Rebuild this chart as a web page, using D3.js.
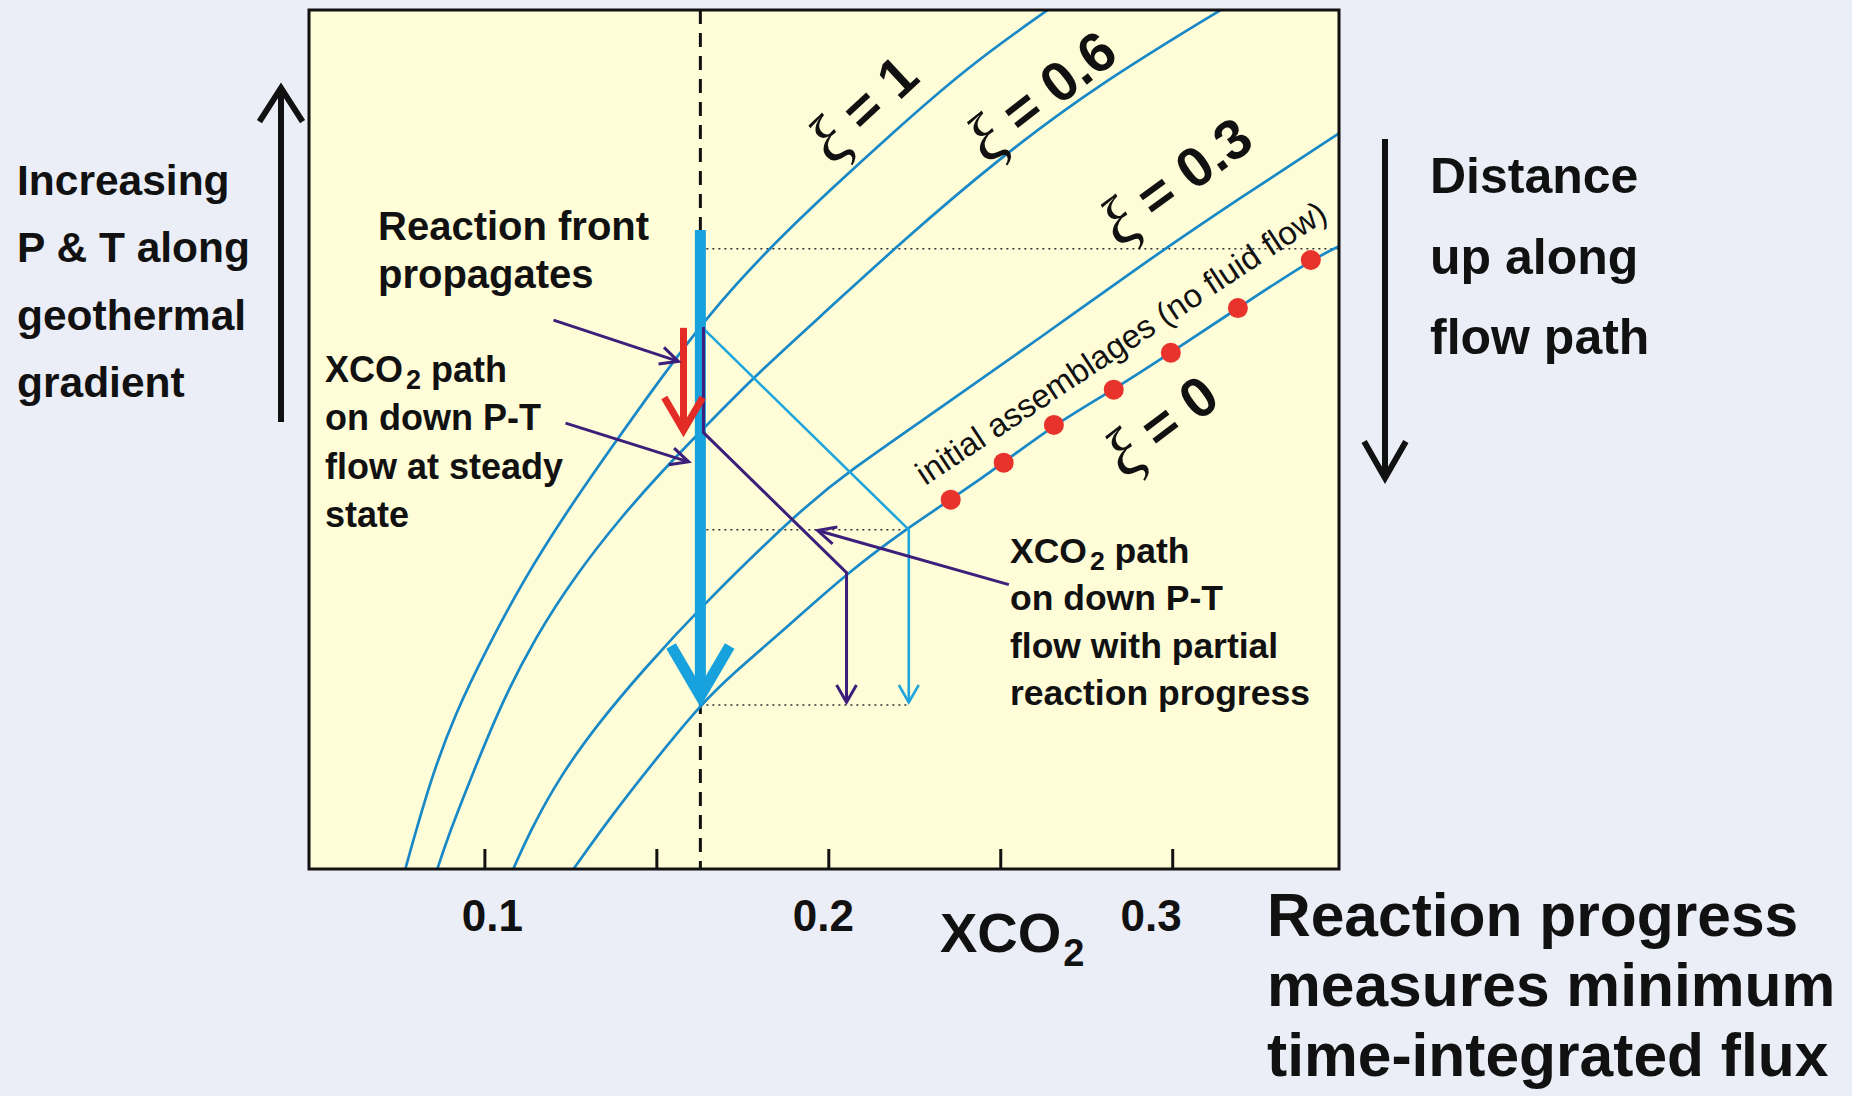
<!DOCTYPE html>
<html>
<head>
<meta charset="utf-8">
<script src="https://cdn.jsdelivr.net/npm/d3@7"></script>
<style>
  html, body { margin: 0; padding: 0; background: #ebeef7; }
  svg { display: block; }
  text { font-family: "Liberation Sans", Arial, sans-serif; fill: #111; }
</style>
</head>
<body>
<div id="chart"></div>
<script>
// XCO2 (x) against relative position along the P-T path (y, 0 = bottom of panel, 100 = top)
const xi1X  = [0.0770, 0.0843, 0.0916, 0.1009, 0.1113, 0.1236, 0.1370, 0.1509, 0.1649, 0.1823, 0.2015, 0.2173, 0.2405, 0.2638];
const xi1Y  = [0, 10.4, 18.2, 25.8, 33.6, 41.4, 49.1, 56.9, 64.4, 72.1, 79.4, 85.2, 93.4, 100];
const xi06X = [0.0863, 0.0901, 0.0959, 0.1047, 0.1148, 0.1265, 0.1396, 0.1521, 0.1628, 0.1783, 0.2015, 0.2210, 0.2501, 0.2792, 0.3141];
const xi06Y = [0, 4.5, 10.4, 19.1, 27.0, 34.2, 40.9, 46.5, 50.9, 57.3, 65.7, 72.9, 82.9, 91.5, 100];
const xi03X = [0.1084, 0.1134, 0.1221, 0.1338, 0.1454, 0.1628, 0.1919, 0.2056, 0.2327, 0.2618, 0.2909, 0.3200, 0.3491];
const xi03Y = [0, 4.5, 10.9, 17.3, 22.8, 30.5, 41.8, 46.2, 53.7, 61.9, 70.3, 78.2, 85.8];
const xi0X  = [0.1259, 0.1375, 0.1503, 0.1628, 0.1724, 0.1870, 0.2056, 0.2231, 0.2356, 0.2510, 0.2656, 0.2830, 0.2996, 0.3191, 0.3403, 0.3491];
const xi0Y  = [0, 6.5, 13.0, 19.1, 22.8, 27.8, 34.5, 39.7, 43.0, 47.3, 51.7, 55.8, 60.1, 65.3, 70.9, 72.6];

// initial assemblages (red dots on the xi = 0 curve)
const dotsX = [0.2356, 0.2510, 0.2656, 0.2830, 0.2996, 0.3191, 0.3403];
const dotsY = [43.0, 47.3, 51.7, 55.8, 60.1, 65.3, 70.9];

// curve labels: text, centre (x, y), rotation
const xiNames  = ["1", "0.6", "0.3", "0"];
const xiLabelX = [0.2100, 0.2618, 0.3010, 0.2967];
const xiLabelY = [88.6, 90.1, 80.2, 51.7];
const xiAngle  = [-43, -38, -36, -37];

// steady-state front position and the flow paths
const frontX = 0.1628;
const arrowTopY = 74.4, arrowTipY = 19.2;
const redX = 0.1579, redY = [63.0, 50.6];
const partialPath = [[0.1637, 63.1], [0.1637, 50.8], [0.2053, 34.5], [0.2053, 19.4]];
const reactedPath = [[0.1637, 62.9], [0.2234, 39.5], [0.2234, 19.4]];
const dottedLevels = [[0.1628, 0.3485, 72.2], [0.1628, 0.2234, 39.5], [0.1628, 0.2234, 19.1]];
const pointers = [[0.1201, 63.9, 0.1564, 59.1], [0.1236, 51.9, 0.1594, 47.4], [0.2525, 33.1, 0.1969, 39.4]];

const tickValues = [0.1, 0.15, 0.2, 0.25, 0.3];
const tickLabels = [0.1, 0.2, 0.3];

const width = 1852, height = 1096;
const plot = { left: 309, top: 10, right: 1339, bottom: 869 };

const x = d3.scaleLinear().domain([0.049, 0.3485]).range([plot.left, plot.right]);
const y = d3.scaleLinear().domain([0, 100]).range([plot.bottom, plot.top]);

const svg = d3.select("#chart").append("svg")
    .attr("width", width)
    .attr("height", height);

svg.append("rect").attr("width", width).attr("height", height).attr("fill", "#ebeef7");

svg.append("clipPath").attr("id", "clip")
    .append("rect")
    .attr("x", plot.left).attr("y", plot.top)
    .attr("width", plot.right - plot.left).attr("height", plot.bottom - plot.top);

svg.append("rect")
    .attr("x", plot.left).attr("y", plot.top)
    .attr("width", plot.right - plot.left).attr("height", plot.bottom - plot.top)
    .attr("fill", "#fffdd8");

const g = svg.append("g").attr("clip-path", "url(#clip)");

function arrowHead(sel, tx, ty, angle, len, spread, color, w) {
    const a1 = angle + Math.PI - spread, a2 = angle + Math.PI + spread;
    sel.append("path")
        .attr("d", `M${tx + len * Math.cos(a1)},${ty + len * Math.sin(a1)}L${tx},${ty}L${tx + len * Math.cos(a2)},${ty + len * Math.sin(a2)}`)
        .attr("fill", "none")
        .attr("stroke", color)
        .attr("stroke-width", w)
        .attr("stroke-linejoin", "miter");
}

// dotted reference levels
dottedLevels.forEach(d => {
    g.append("line")
        .attr("x1", x(d[0])).attr("x2", x(d[1]))
        .attr("y1", y(d[2])).attr("y2", y(d[2]))
        .attr("stroke", "#333").attr("stroke-width", 1.6)
        .attr("stroke-dasharray", "2,4");
});

// dashed front line
g.append("line")
    .attr("x1", x(frontX)).attr("x2", x(frontX))
    .attr("y1", y(100)).attr("y2", y(0))
    .attr("stroke", "#111").attr("stroke-width", 3)
    .attr("stroke-dasharray", "14,9");

// reaction progress curves
const line = d3.line().x(d => x(d[0])).y(d => y(d[1])).curve(d3.curveBasis);
const curves = [d3.zip(xi1X, xi1Y), d3.zip(xi06X, xi06Y), d3.zip(xi03X, xi03Y), d3.zip(xi0X, xi0Y)];
g.selectAll(".xi-curve")
    .data(curves)
    .enter()
    .append("path")
    .attr("class", "xi-curve")
    .attr("d", line)
    .attr("fill", "none")
    .attr("stroke", "#1889c6")
    .attr("stroke-width", 2.7);

// path with full reaction (light blue)
const straight = d3.line().x(d => x(d[0])).y(d => y(d[1]));
g.append("path")
    .attr("d", straight(reactedPath))
    .attr("fill", "none").attr("stroke", "#1fa5dc").attr("stroke-width", 2.6);
{
    const e = reactedPath[reactedPath.length - 1];
    arrowHead(g, x(e[0]), y(e[1]), Math.PI / 2, 20, 0.52, "#1fa5dc", 2.6);
}

// thick arrow: reaction front propagates
const chevronTip = y(arrowTipY) - 8;
g.append("line")
    .attr("x1", x(frontX)).attr("x2", x(frontX))
    .attr("y1", y(arrowTopY)).attr("y2", chevronTip)
    .attr("stroke", "#17a2dd").attr("stroke-width", 11);
arrowHead(g, x(frontX), chevronTip, Math.PI / 2, 58, 0.53, "#17a2dd", 11);

// partial-reaction path (purple)
g.append("path")
    .attr("d", straight(partialPath))
    .attr("fill", "none").attr("stroke", "#3c1f7b").attr("stroke-width", 3);
{
    const e = partialPath[partialPath.length - 1];
    arrowHead(g, x(e[0]), y(e[1]), Math.PI / 2, 20, 0.52, "#3c1f7b", 3);
}

// red arrow
g.append("line")
    .attr("x1", x(redX)).attr("x2", x(redX))
    .attr("y1", y(redY[0])).attr("y2", y(redY[1]) - 4)
    .attr("stroke", "#e42c26").attr("stroke-width", 7);
arrowHead(g, x(redX), y(redY[1]) - 4, Math.PI / 2, 38, 0.53, "#e42c26", 7);

// initial assemblages
g.selectAll(".dot")
    .data(d3.zip(dotsX, dotsY))
    .enter()
    .append("circle")
    .attr("class", "dot")
    .attr("cx", d => x(d[0]))
    .attr("cy", d => y(d[1]))
    .attr("r", 10)
    .attr("fill", "#e8322c");

// pointer arrows from the notes
pointers.forEach(p => {
    const x1 = x(p[0]), y1 = y(p[1]), x2 = x(p[2]), y2 = y(p[3]);
    svg.append("line")
        .attr("x1", x1).attr("y1", y1).attr("x2", x2).attr("y2", y2)
        .attr("stroke", "#3c1f7b").attr("stroke-width", 3);
    arrowHead(svg, x2, y2, Math.atan2(y2 - y1, x2 - x1), 20, 0.45, "#3c1f7b", 3);
});

// frame and ticks
svg.append("rect")
    .attr("x", plot.left).attr("y", plot.top)
    .attr("width", plot.right - plot.left).attr("height", plot.bottom - plot.top)
    .attr("fill", "none").attr("stroke", "#111").attr("stroke-width", 3);

const axis = svg.append("g")
    .attr("transform", `translate(0,${plot.bottom})`)
    .call(d3.axisBottom(x).tickValues(tickValues).tickSize(-20).tickFormat(""));
axis.select(".domain").remove();
axis.selectAll(".tick line").attr("stroke", "#111").attr("stroke-width", 3);

const labelShift = { 0.1: 8, 0.2: -5, 0.3: -21 };
svg.selectAll(".tick-label")
    .data(tickLabels)
    .enter()
    .append("text")
    .attr("class", "tick-label")
    .attr("x", d => x(d) + labelShift[d])
    .attr("y", 931)
    .attr("text-anchor", "middle")
    .attr("font-size", 44)
    .attr("font-weight", "bold")
    .text(d => d3.format(".1f")(d));

// axis title XCO2
const title = svg.append("text")
    .attr("x", 940).attr("y", 952)
    .attr("font-size", 56).attr("font-weight", "bold");
title.append("tspan").text("XCO");
title.append("tspan").attr("font-size", 38).attr("dx", 2).attr("dy", 14).text("2");

// curve labels
xiNames.forEach((name, i) => {
    const t = g.append("text")
        .attr("transform", `translate(${x(xiLabelX[i])},${y(xiLabelY[i])}) rotate(${xiAngle[i]})`)
        .attr("text-anchor", "middle")
        .attr("dominant-baseline", "central")
        .attr("font-size", 56)
        .attr("font-weight", "bold");
    t.append("tspan")
        .attr("font-family", "'Liberation Serif', serif")
        .attr("font-style", "italic")
        .attr("font-weight", "normal")
        .attr("font-size", 68)
        .text("ξ");
    t.append("tspan").text(" = " + name);
});

g.append("text")
    .attr("transform", `translate(${x(0.2282)},${y(44.6)}) rotate(-33.5)`)
    .attr("font-size", 33)
    .text("initial assemblages (no fluid flow)");

// notes
function block(lines, x0, y0, step, size) {
    lines.forEach((ln, i) => {
        const t = svg.append("text")
            .attr("x", x0).attr("y", y0 + i * step)
            .attr("font-size", size).attr("font-weight", "bold");
        if (ln.startsWith("XCO2")) {
            t.append("tspan").text("XCO");
            t.append("tspan").attr("font-size", size * 0.75).attr("dx", 3).attr("dy", 7).text("2");
            t.append("tspan").attr("dy", -7).text(ln.slice(4));
        } else {
            t.text(ln);
        }
    });
}

block(["Increasing", "P & T along", "geothermal", "gradient"], 17, 195, 67.3, 42.5);
block(["Distance", "up along", "flow path"], 1430, 193, 80.5, 50);
block(["Reaction front", "propagates"], 378, 240, 48, 40);
block(["XCO2 path", "on down P-T", "flow at steady", "state"], 325, 382, 48.3, 36);
block(["XCO2 path", "on down P-T", "flow with partial", "reaction progress"], 1010, 563, 47.4, 35.5);
block(["Reaction progress", "measures minimum", "time-integrated flux"], 1267, 936, 70, 60.5);

// side arrows
svg.append("line").attr("x1", 281).attr("x2", 281).attr("y1", 422).attr("y2", 88)
    .attr("stroke", "#111").attr("stroke-width", 6);
arrowHead(svg, 281, 88, -Math.PI / 2, 40, 0.57, "#111", 6);
svg.append("line").attr("x1", 1385).attr("x2", 1385).attr("y1", 139).attr("y2", 478)
    .attr("stroke", "#111").attr("stroke-width", 6);
arrowHead(svg, 1385, 478, Math.PI / 2, 42, 0.52, "#111", 6);
</script>
</body>
</html>
